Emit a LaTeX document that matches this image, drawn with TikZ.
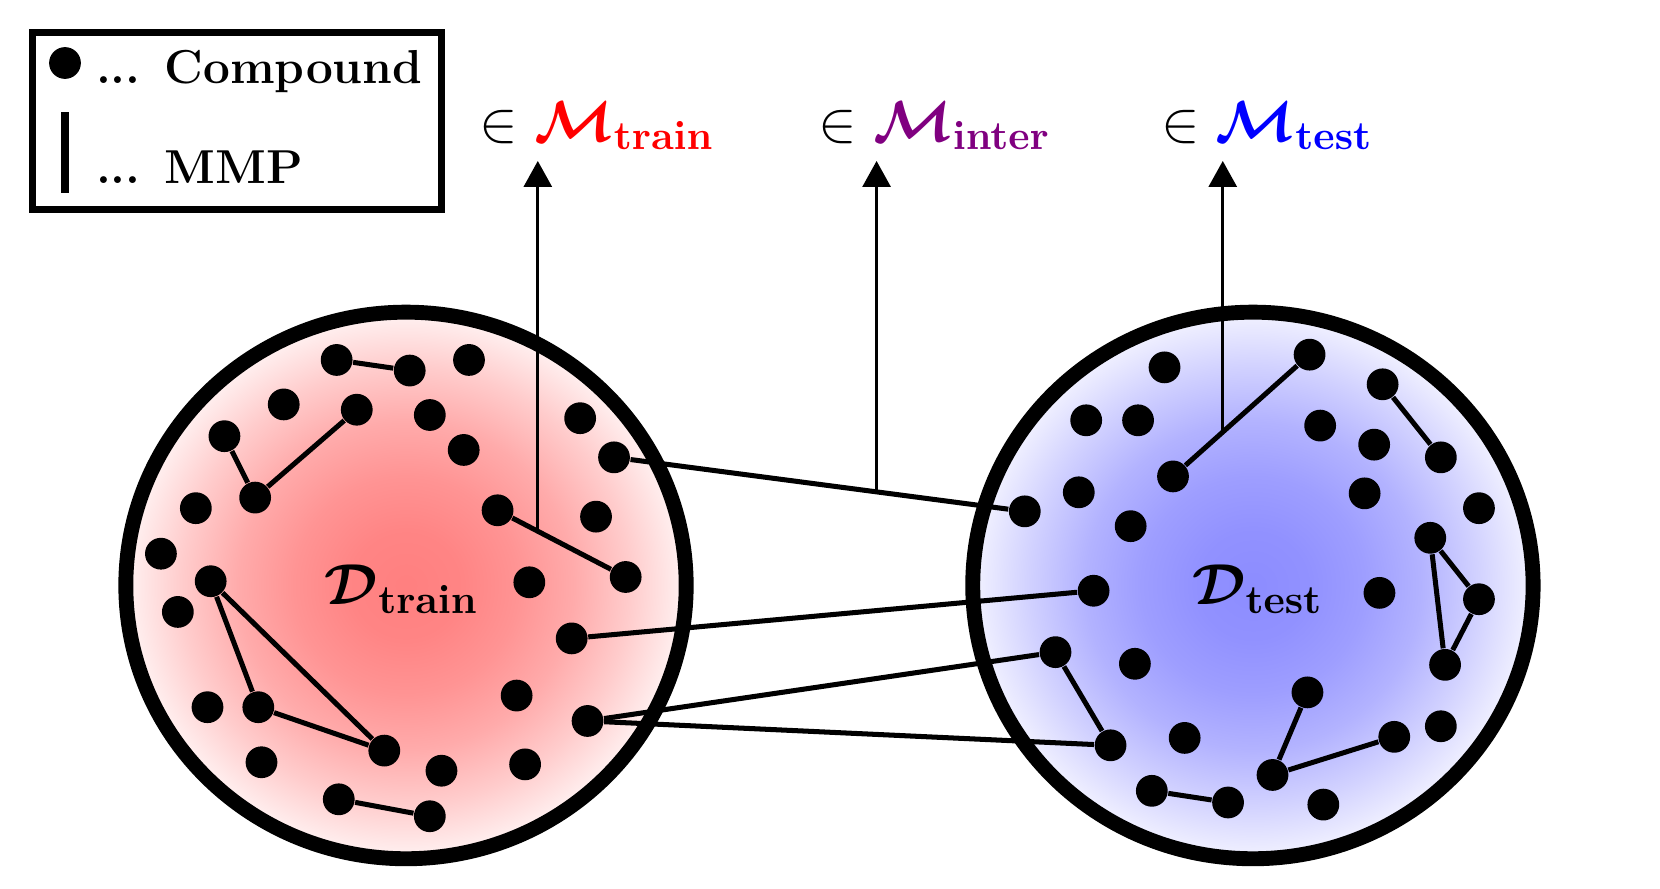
\RequirePackage{fix-cm}
\documentclass[tikz,border=0pt]{standalone}
\usepackage{amsmath,amssymb,bm}
\usepackage{xcolor}
\usepackage{tikz}
\usetikzlibrary{arrows.meta}
\definecolor{train red}{rgb}{1, 0, 0}
\definecolor{inter purple}{rgb}{0.5, 0, 0.5}
\definecolor{test blue}{rgb}{0, 0, 1}
\pgfdeclareradialshading{train glow}{\pgfpoint{0bp}{0bp}}{color(0bp)=(red!50); color(5bp)=(red!48); color(10bp)=(red!42); color(15bp)=(red!33); color(20bp)=(red!20); color(25bp)=(red!5); color(50bp)=(white)}
\pgfdeclareradialshading{test glow}{\pgfpoint{0bp}{0bp}}{color(0bp)=(blue!45); color(5bp)=(blue!43); color(10bp)=(blue!38); color(15bp)=(blue!30); color(20bp)=(blue!18); color(25bp)=(blue!5); color(50bp)=(white)}

\tikzset{
	compound/.style = {circle, fill = black, inner sep = 0pt, minimum size = 0.3cm},
	mmp/.style = {line width = 1.35pt},
	ring/.style = {line width = 4pt},
	flow/.style = {line width = 0.9pt, -{Triangle[width = 7.5pt, length = 7pt]}},
	setlabel/.style = {anchor = base, inner sep = 0pt, font = \fontsize{15.5}{18}\selectfont},
	keylabel/.style = {anchor = base west, inner sep = 0pt, font = \fontsize{12.8}{15}\selectfont\bfseries},
}

\begin{document}
\begin{tikzpicture}[x = 0.01cm, y = -0.01cm]
			\useasboundingbox (0, 0) rectangle (1568, 839.7);
			% legend
			\begin{scope}
				\draw[line width = 1.9pt] (31, 31) rectangle (417, 198);
				\node[compound] (key dot) at (61.4, 59.5) {};
				\coordinate (key top) at (61.4, 106);
				\coordinate (key bottom) at (61.4, 182);
				\draw[line width = 2.1pt] (key top) -- (key bottom);
				\node[keylabel] (key compound) at (90, 78.6) {... Compound};
				\node[keylabel] (key mmp) at (90, 173) {... MMP};
			\end{scope}
			% the two data sets
			\begin{scope}
				\shade[shading = train glow] (383.5, 553) ellipse (2.645cm and 2.58cm);
				\shade[shading = test glow] (1183.5, 553) ellipse (2.645cm and 2.58cm);
				\draw[ring] (383.5, 553) ellipse (2.645cm and 2.58cm);
				\draw[ring] (1183.5, 553) ellipse (2.645cm and 2.58cm);
				\node[setlabel] (dtrain) at (379.5, 571) {$\boldsymbol{\mathcal{D}}_{\mathbf{train}}$};
				\node[setlabel] (dtest) at (1188, 571) {$\boldsymbol{\mathcal{D}}_{\mathbf{test}}$};
			\end{scope}
			% compounds
			\foreach \n/\x/\y in {1/318/340, 2/387/350, 3/443/340, 4/268/382, 5/337/387,
				6/406/392, 7/212/412, 8/241/470, 9/438/425, 10/548/395,
				11/580/432, 12/185/480, 13/470/482, 14/591/545, 15/563/488,
				16/152/523, 17/199/549, 18/168/578, 19/244/668, 20/363/709,
				21/500/550, 22/540/603, 23/488/657, 24/196/668, 25/555/681,
				26/247/720, 27/417/728, 28/496/722, 29/320/755, 30/406/771}
				\node[compound] (l\n) at (\x, \y) {};
			\foreach \n/\x/\y in {1/1100/347, 2/1237/335, 3/1026/397, 4/1075/397, 5/1306/363,
				6/1247/402, 7/1298/420, 8/1361/432, 9/1019/465, 10/1108/450,
				11/1289/466, 12/1397/480, 13/968/483, 14/1068/497, 15/1351/508,
				16/1033/558, 17/1303/560, 18/1397/566, 19/997/616, 20/1072/627,
				21/1365/628, 22/1235/654, 23/1361/686, 24/1317/696, 25/1119/697,
				26/1049/704, 27/1088/747, 28/1160/758, 29/1202/732, 30/1250/760}
				\node[compound] (r\n) at (\x, \y) {};
			% arrows to the MMP sets
			\coordinate (from train) at (508, 501.8);
			\coordinate (from inter) at (828, 464.6);
			\coordinate (from test) at (1155, 408.1);
			\coordinate (to train) at (508, 152);
			\coordinate (to inter) at (828, 152);
			\coordinate (to test) at (1155, 152);
			\draw[flow] (from train) -- (to train);
			\draw[flow] (from inter) -- (to inter);
			\draw[flow] (from test) -- (to test);
			\node[setlabel] (mtrain) at (564, 133.5) {$\in \textcolor{train red}{\boldsymbol{\mathcal{M}}_{\mathbf{train}}}$};
			\node[setlabel] (minter) at (883, 133.5) {$\in \textcolor{inter purple}{\boldsymbol{\mathcal{M}}_{\mathbf{inter}}}$};
			\node[setlabel] (mtest) at (1197, 133.5) {$\in \textcolor{test blue}{\boldsymbol{\mathcal{M}}_{\mathbf{test}}}$};
			% MMPs
			\foreach \a/\b in {l1/l2, l7/l8, l8/l5, l13/l14, l17/l19, l17/l20, l19/l20, l29/l30,
				l11/r13, l22/r16, l25/r19, l25/r26,
				r10/r2, r5/r8, r15/r18, r15/r21, r18/r21, r19/r26, r22/r29, r29/r24, r27/r28}
				\draw[mmp] (\a) -- (\b);
		\end{tikzpicture}
\end{document}
